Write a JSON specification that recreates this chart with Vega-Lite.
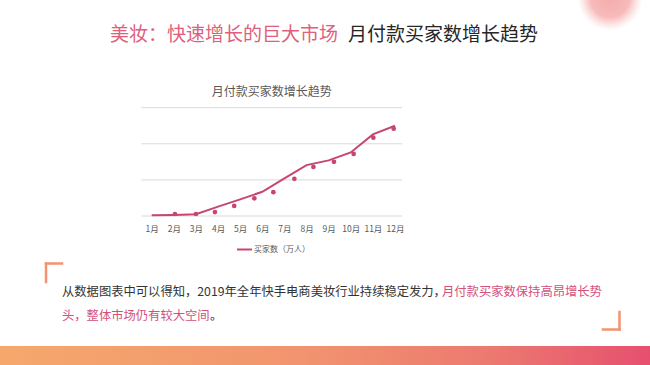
{
  "$schema": "https://vega.github.io/schema/vega-lite/v6.json",
  "width": 650,
  "height": 365,
  "autosize": {"type": "none"},
  "padding": 0,
  "background": "#ffffff",
  "config": {"view": {"stroke": null}, "font": "Noto Sans CJK SC"},
  "datasets": {
    "line": [
      {"month": 1, "buyers": 0.2},
      {"month": 2, "buyers": 0.3},
      {"month": 3, "buyers": 0.5},
      {"month": 4, "buyers": 2.6},
      {"month": 5, "buyers": 4.6},
      {"month": 6, "buyers": 6.7},
      {"month": 7, "buyers": 10.4},
      {"month": 8, "buyers": 14.1},
      {"month": 9, "buyers": 15.4},
      {"month": 10, "buyers": 17.6},
      {"month": 11, "buyers": 22.6},
      {"month": 12, "buyers": 25.0}
    ],
    "dots": [
      {"pos": 2.05, "buyers": 0.55},
      {"pos": 3.0, "buyers": 0.55},
      {"pos": 3.86, "buyers": 1.1},
      {"pos": 4.73, "buyers": 2.8},
      {"pos": 5.64, "buyers": 4.9},
      {"pos": 6.5, "buyers": 6.6},
      {"pos": 7.45, "buyers": 10.3},
      {"pos": 8.31, "buyers": 13.6},
      {"pos": 9.24, "buyers": 15.0},
      {"pos": 10.13, "buyers": 17.2},
      {"pos": 11.02, "buyers": 21.7},
      {"pos": 11.94, "buyers": 24.2}
    ],
    "grid": [{"level": 0}, {"level": 10}, {"level": 20}, {"level": 30}]
  },
  "layer": [
    {
      "data": {"values": [{"part": "bar"}]},
      "mark": {"type": "rect", "fill": {"gradient": "linear", "x1": 0, "x2": 1, "y1": 0, "y2": 0, "stops": [{"offset": 0, "color": "#f5a86c"}, {"offset": 0.45, "color": "#f2956f"}, {"offset": 0.75, "color": "#ec7a70"}, {"offset": 1, "color": "#e6506e"}]}},
      "encoding": {
        "x": {"datum": -5.858, "type": "quantitative", "scale": {"domain": [-5.858, 23.527], "nice": false, "zero": false}, "axis": {"title": null, "values": [1,2,3,4,5,6,7,8,9,10,11,12], "labelExpr": "datum.value + '月'", "domain": false, "ticks": false, "grid": false, "offset": -144, "labelPadding": 3, "labelFontSize": 8.5, "labelColor": "#595959", "labelOverlap": false, "labelFlush": false, "labelFont": "Noto Sans CJK SC"}},
        "x2": {"datum": 23.527},
        "y": {"datum": -36.01, "type": "quantitative", "scale": {"domain": [-41.27, 59.83], "nice": false, "zero": false}, "axis": null},
        "y2": {"datum": -42}
      }
    },
    {
      "data": {"values": [{"part": "blob"}]},
      "mark": {"type": "point", "shape": "circle", "filled": true, "size": 4200, "strokeWidth": 0, "fill": {"gradient": "radial", "x1": 0.5, "y1": 0.5, "x2": 0.5, "y2": 0.5, "r1": 0, "r2": 0.5, "stops": [{"offset": 0, "color": "rgba(240,128,128,0.95)"}, {"offset": 0.6, "color": "rgba(242,140,140,0.85)"}, {"offset": 1, "color": "rgba(248,170,170,0)"}]}},
      "encoding": {
        "x": {"datum": 21.72, "type": "quantitative"},
        "y": {"datum": 60.39, "type": "quantitative", "axis": null}
      }
    },
    {
      "data": {"name": "grid"},
      "mark": {"type": "rule", "color": "#d9d9d9", "strokeWidth": 1},
      "encoding": {
        "x": {"datum": 0.54, "type": "quantitative"},
        "x2": {"datum": 12.32},
        "y": {"field": "level", "type": "quantitative", "axis": null}
      }
    },
    {
      "data": {"name": "line"},
      "mark": {"type": "line", "strokeWidth": 2, "interpolate": "linear"},
      "encoding": {
        "x": {"field": "month", "type": "quantitative"},
        "y": {"field": "buyers", "type": "quantitative", "axis": null},
        "color": {"datum": "买家数（万人）", "type": "nominal", "scale": {"range": ["#c8466e"]}, "legend": {"title": null, "orient": "none", "legendX": 236, "legendY": 241, "symbolType": "stroke", "symbolSize": 225, "symbolStrokeWidth": 2, "labelFontSize": 8, "labelColor": "#595959", "labelOffset": 1, "padding": 0, "labelFont": "Noto Sans CJK SC"}}
      }
    },
    {
      "data": {"name": "dots"},
      "mark": {"type": "point", "filled": true, "size": 22, "color": "#c8466e", "opacity": 1},
      "encoding": {
        "x": {"field": "pos", "type": "quantitative"},
        "y": {"field": "buyers", "type": "quantitative", "axis": null}
      }
    },
    {
      "data": {"values": [{"t": "月付款买家数增长趋势"}]},
      "mark": {"type": "text", "fontSize": 12, "color": "#595959", "align": "center", "baseline": "middle"},
      "encoding": {
        "x": {"datum": 6.425, "type": "quantitative"},
        "y": {"datum": 34.43, "type": "quantitative", "axis": null},
        "text": {"field": "t"}
      }
    },
    {
      "data": {"values": [{"t": "美妆：快速增长的巨大市场"}]},
      "mark": {"type": "text", "fontSize": 19, "color": "#e0607c", "align": "right", "baseline": "middle"},
      "encoding": {
        "x": {"datum": 9.42, "type": "quantitative"},
        "y": {"datum": 50.14, "type": "quantitative", "axis": null},
        "text": {"field": "t"}
      }
    },
    {
      "data": {"values": [{"t": "月付款买家数增长趋势"}]},
      "mark": {"type": "text", "fontSize": 19, "color": "#262626", "align": "left", "baseline": "middle"},
      "encoding": {
        "x": {"datum": 9.874, "type": "quantitative"},
        "y": {"datum": 50.14, "type": "quantitative", "axis": null},
        "text": {"field": "t"}
      }
    },
    {
      "data": {"values": [
        {"t": "从数据图表中可以得知，2019年全年快手电商美妆行业持续稳定发力，", "xp": -3.055, "yp": -21.05, "c": "black"},
        {"t": "月付款买家数保持高昂增长势", "xp": 14.124, "yp": -21.05, "c": "pink"},
        {"t": "头，整体市场仍有较大空间", "xp": -3.055, "yp": -27.6, "c": "pink"},
        {"t": "。", "xp": 3.636, "yp": -27.6, "c": "black"}
      ]},
      "mark": {"type": "text", "fontSize": 12.3, "align": "left", "baseline": "middle"},
      "encoding": {
        "x": {"field": "xp", "type": "quantitative"},
        "y": {"field": "yp", "type": "quantitative", "axis": null},
        "text": {"field": "t"},
        "fill": {"field": "c", "type": "nominal", "scale": {"domain": ["black", "pink"], "range": ["#333333", "#d2507a"]}, "legend": null}
      }
    },
    {
      "data": {"values": [
        {"x1": -3.778, "x2": -3.778, "y1": -13.16, "y2": -18.28},
        {"x1": -3.778, "x2": -3.055, "y1": -13.16, "y2": -13.16},
        {"x1": 22.148, "x2": 22.148, "y1": -31.44, "y2": -26.59},
        {"x1": 22.148, "x2": 21.402, "y1": -31.44, "y2": -31.44}
      ]},
      "mark": {"type": "rule", "color": "#f19470", "strokeWidth": 2.5, "strokeCap": "square"},
      "encoding": {
        "x": {"field": "x1", "type": "quantitative"},
        "x2": {"field": "x2"},
        "y": {"field": "y1", "type": "quantitative", "axis": null},
        "y2": {"field": "y2"}
      }
    }
  ]
}
